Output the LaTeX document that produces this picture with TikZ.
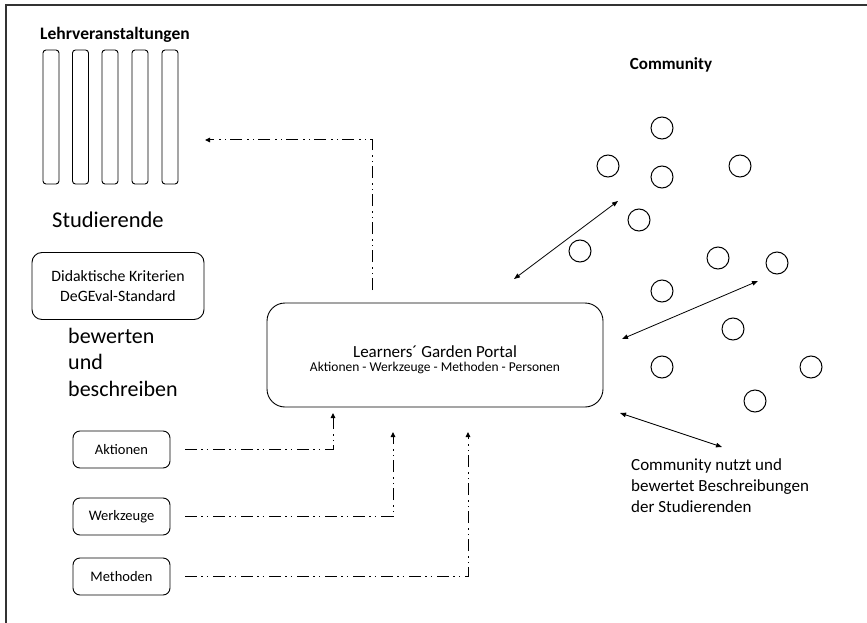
\documentclass[tikz,border=0pt]{standalone}
\usepackage{fontspec}
\setmainfont{Carlito}
\usetikzlibrary{arrows.meta,calc}
\begin{document}
\begin{tikzpicture}[x=1pt,y=-1pt,
  bar/.style={draw,line width=0.9pt,rounded corners=3pt,minimum width=16pt,minimum height=134pt,inner sep=0pt},
  smallbox/.style={draw,line width=0.9pt,rounded corners=7pt,minimum width=97pt,minimum height=37pt,inner sep=0pt,font=\fontsize{14.5}{16}\selectfont},
  dashdot/.style={line width=1pt,dash pattern=on 12pt off 4pt on 1.5pt off 4pt on 1.5pt off 5pt,-{Triangle[length=5pt,width=4.5pt]}},
  twoway/.style={line width=0.8pt,{Triangle[length=6pt,width=4.5pt]}-{Triangle[length=6pt,width=4.5pt]}},
  person/.style={draw,line width=1pt,circle,minimum size=22pt,inner sep=0pt}
]
\useasboundingbox (0,0) rectangle (867,623);
% frame (top and left edges)
\draw[line width=1.6pt,black!80] (6,623) -- (6,5) -- (867,5);

% Lehrveranstaltungen
\node[font=\bfseries\fontsize{17.5}{19}\selectfont,anchor=west,inner sep=0pt] (lv) at (40,35) {Lehrveranstaltungen};
\foreach \i/\x in {1/51,2/80.5,3/110,4/140,5/170}{
  \node[bar] (bar\i) at (\x,117) {};
}
\node[font=\fontsize{22.5}{26}\selectfont,anchor=west,inner sep=0pt] (stud) at (52,220) {Studierende};
\node[draw,line width=0.9pt,rounded corners=10pt,minimum width=172pt,minimum height=67pt,align=center,inner sep=0pt,
  font=\fontsize{15.8}{20}\selectfont] (krit) at (118,286) {Didaktische Kriterien\\DeGEval-Standard};
\node[font=\fontsize{22}{26.5}\selectfont,align=left,anchor=north west,inner sep=0pt] (bew) at (68,328) {bewerten\\und\\beschreiben};

% portal
\node[draw,line width=0.9pt,rounded corners=18pt,minimum width=336pt,minimum height=104pt,inner sep=0pt] (portal) at (435,355) {};
\node[align=center,inner sep=0pt] (portaltext) at (435,360)
  {{\fontsize{17}{19}\selectfont Learners´ Garden Portal}\\[2pt]{\fontsize{13.5}{15}\selectfont Aktionen - Werkzeuge - Methoden - Personen}};

% small boxes
\node[smallbox] (akt) at (121.5,449.5) {Aktionen};
\node[smallbox] (wz) at (121.5,516.5) {Werkzeuge};
\node[smallbox] (meth) at (121.5,576.5) {Methoden};

% connectors
\coordinate (topstart) at (372,290);
\coordinate (topend) at (205,140);
\draw[dashdot] (topstart) |- (topend);
\coordinate (pa) at (333,413);
\coordinate (pw) at (393,432);
\coordinate (pm) at (468,432);
\draw[dashdot] ([xshift=15pt]akt.east) -| (pa);
\draw[dashdot] ([xshift=15pt]wz.east) -| (pw);
\draw[dashdot] ([xshift=15pt]meth.east) -| (pm);

% community
\node[font=\bfseries\fontsize{17}{19}\selectfont] (comm) at (671,65) {Community};
\foreach \n/\x/\y in {1/662/128,2/608/166,3/662/177,4/740/166,5/639/220,6/580/251,7/718/258,8/777/263,9/662/291,10/733/329,11/662/367,12/811/367,13/755/401}{
  \node[person] (p\n) at (\x,\y) {};
}
\coordinate (a1s) at (514,279);
\coordinate (a1e) at (618,201);
\coordinate (a2s) at (622,339);
\coordinate (a2e) at (758,281);
\coordinate (a3s) at (620,413);
\coordinate (a3e) at (722,447);
\draw[twoway] (a1s) -- (a1e);
\draw[twoway] (a2s) -- (a2e);
\draw[twoway] (a3s) -- (a3e);
\node[font=\fontsize{17}{21}\selectfont,align=left,anchor=north west,inner sep=0pt] (note) at (631,458)
  {Community nutzt und\\bewertet Beschreibungen\\der Studierenden};
\end{tikzpicture}
\end{document}
